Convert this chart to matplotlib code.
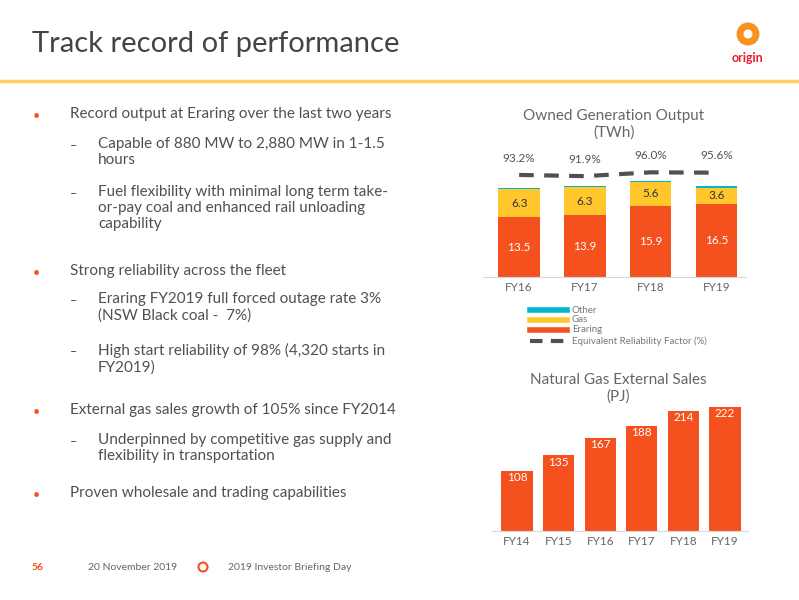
import matplotlib.pyplot as plt
from matplotlib.patches import Ellipse

years_gen = ["FY16", "FY17", "FY18", "FY19"]
eraring = [13.5, 13.9, 15.9, 16.5]
gas = [6.3, 6.3, 5.6, 3.6]
other = [0.2, 0.2, 0.1, 0.3]
erf = [93.2, 91.9, 96.0, 95.6]

years_sales = ["FY14", "FY15", "FY16", "FY17", "FY18", "FY19"]
sales = [108, 135, 167, 188, 214, 222]

RED = "#f4511e"
YEL = "#ffc72c"
TEAL = "#00b5cc"
GREY = "#505050"

W, H = 799, 600
fig = plt.figure(figsize=(7.99, 6.0), dpi=100)
plt.rcParams["font.family"] = ["Lato", "DejaVu Sans"]


def px(x, y):
    return x / W, 1 - y / H


def ax_at(x0, y0, x1, y1):
    return fig.add_axes([x0 / W, 1 - y1 / H, (x1 - x0) / W, (y1 - y0) / H])


def ring(x, y, r, color, lw):
    fig.add_artist(Ellipse(px(x, y), 2 * r / W, 2 * r / H, transform=fig.transFigure,
                           fill=False, ec=color, lw=lw))


# header
fig.text(*px(32, 44), "Track record of performance", fontsize=21, color="#444444", va="center")
fig.add_artist(plt.Line2D([0, 1], [1 - 81 / H] * 2, color="#ffcf5a", lw=2.5))
ring(748, 34, 8, "#f7931e", 5)
fig.text(*px(748, 58), "origin", fontsize=9, color="#e8202a", ha="center", va="center", weight="bold")

# bullets: (bullet x, text x, first line y, text)
bullets = [
    (33, 70, 116, "Record output at Eraring over the last two years"),
    (70, 98, 146, "Capable of 880 MW to 2,880 MW in 1-1.5\nhours"),
    (70, 98, 194, "Fuel flexibility with minimal long term take-\nor-pay coal and enhanced rail unloading\ncapability"),
    (33, 70, 273, "Strong reliability across the fleet"),
    (70, 98, 301, "Eraring FY2019 full forced outage rate 3%\n(NSW Black coal -  7%)"),
    (70, 98, 352, "High start reliability of 98% (4,320 starts in\nFY2019)"),
    (33, 70, 412, "External gas sales growth of 105% since FY2014"),
    (70, 98, 442, "Underpinned by competitive gas supply and\nflexibility in transportation"),
    (33, 70, 495, "Proven wholesale and trading capabilities"),
]
for bx, tx, ty, txt in bullets:
    mark = "•" if bx == 33 else "–"
    fig.text(*px(bx, ty), mark, fontsize=9, color=RED if bx == 33 else GREY, va="center")
    fig.text(*px(tx, ty - 9), txt, fontsize=11, color=GREY, va="top", linespacing=1.2)

# footer
fig.text(*px(32, 567), "56", fontsize=7.5, color=RED, weight="bold", va="center")
fig.text(*px(88, 567), "20 November 2019", fontsize=7.5, color="#666666", va="center")
ring(203, 567, 4.5, RED, 1.5)
fig.text(*px(228, 567), "2019 Investor Briefing Day", fontsize=7.5, color="#666666", va="center")

# owned generation chart
ax1 = ax_at(483, 150, 746, 277)
x = list(range(len(years_gen)))
bw = 0.63
ax1.bar(x, eraring, bw, color=RED)
ax1.bar(x, gas, bw, bottom=eraring, color=YEL)
ax1.bar(x, other, bw, bottom=[a + b for a, b in zip(eraring, gas)], color=TEAL)
for i in x:
    ax1.text(i, eraring[i] / 2, f"{eraring[i]}", ha="center", va="center", color="white", fontsize=8.5)
    ax1.text(i, eraring[i] + gas[i] / 2, f"{gas[i]}", ha="center", va="center", color="#333333", fontsize=8.5)
ax1.set_ylim(0, 28.6)
ax1.set_xlim(-0.55, 3.45)
ax1.set_xticks(x, years_gen)
ax2 = ax1.twinx()
ax2.plot(x, erf, color=GREY, lw=3, ls=(0, (3.5, 2.5)))
for i in x:
    ax2.text(i, erf[i] + 12, f"{erf[i]:.1f}%", ha="center", va="bottom", color="#555555", fontsize=8.5)
ax2.set_ylim(-16.1, 119.9)
for a in (ax1, ax2):
    for s in a.spines.values():
        s.set_visible(False)
    a.tick_params(length=0, colors="#666666", labelsize=8.5)
    a.set_yticks([])
ax1.spines["bottom"].set_visible(True)
ax1.spines["bottom"].set_color("#d9d9d9")
fig.text(*px(614, 124), "Owned Generation Output\n(TWh)", ha="center", va="center", fontsize=11, color="#666666")

# legend
leg = [(TEAL, "Other", 310), (YEL, "Gas", 320), (RED, "Eraring", 330)]
for c, lab, ly in leg:
    fig.add_artist(plt.Line2D([530 / W, 567 / W], [1 - ly / H] * 2, color=c, lw=4))
    fig.text(*px(572, ly), lab, fontsize=7, color="#777777", va="center")
fig.add_artist(plt.Line2D([530 / W, 567 / W], [1 - 341 / H] * 2, color=GREY, lw=3, ls=(0, (3, 2))))
fig.text(*px(572, 341), "Equivalent Reliability Factor (%)", fontsize=7, color="#777777", va="center")

# gas sales chart
ax3 = ax_at(492, 400, 748, 531)
xs = list(range(len(years_sales)))
ax3.bar(xs, sales, 0.75, color=RED)
for i in xs:
    ax3.text(i, sales[i] - 12, str(sales[i]), ha="center", va="center", color="white", fontsize=8.5)
ax3.set_ylim(0, 234)
ax3.set_xlim(-0.6, 5.55)
ax3.set_xticks(xs, years_sales)
for s in ax3.spines.values():
    s.set_visible(False)
ax3.spines["bottom"].set_visible(True)
ax3.spines["bottom"].set_color("#d9d9d9")
ax3.tick_params(length=0, colors="#666666", labelsize=8.5)
ax3.set_yticks([])
fig.text(*px(618, 388), "Natural Gas External Sales\n(PJ)", ha="center", va="center", fontsize=11, color="#666666")

fig.savefig("out.png", dpi=100)
